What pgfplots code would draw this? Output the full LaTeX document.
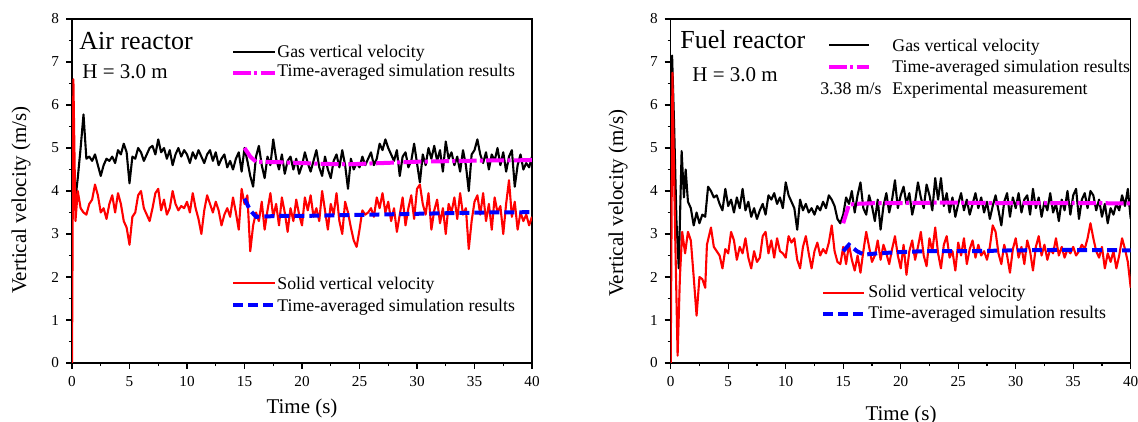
\documentclass[border=0pt]{standalone}
\usepackage{pgfplots}
\pgfplotsset{compat=1.18}
\usepackage{fontspec}
\setmainfont{Liberation Serif}
\definecolor{mag}{RGB}{255,0,255}
\definecolor{rd}{RGB}{255,0,0}
\definecolor{bl}{RGB}{0,0,255}
\tikzset{
  magline/.style={mag, line width=2pt, dash pattern=on 9pt off 1.6pt on 1.6pt off 1.6pt},
  blueline/.style={bl, line width=2pt, dash pattern=on 5pt off 2.5pt},
  gasline/.style={black, line width=1.05pt, line join=round},
  solline/.style={rd, line width=1.05pt, line join=round},
}
\pgfplotsset{
  panel/.style={
    scale only axis, width=230pt, height=172pt,
    xmin=0, xmax=40, ymin=0, ymax=8,
    xtick={0,5,...,40}, ytick={0,1,...,8},
    minor x tick num=1, minor y tick num=1,
    tick align=outside, tick pos=left,
    major tick length=3pt, minor tick length=1.6pt,
    axis line style={line width=0.75pt},
    every tick/.style={black, line width=0.6pt},
    /pgf/number format/assume math mode=true,
    ticklabel style={font=\fontsize{7.6}{8}\selectfont},
    anchor=south west,
    clip=true,
  },
}
\begin{document}
\begin{tikzpicture}[x=1pt,y=1pt]
\useasboundingbox (0,0) rectangle (569,211);
% ---------------- Air reactor ----------------
\begin{axis}[panel, at={(36pt,29.5pt)}]
\addplot[gasline] coordinates {
(0,4.0)(0.25,3.7)(0.5,4.3)(0.75,5.0)(1.0,5.78)(1.25,4.75)(1.5,4.8)(1.75,4.7)(2.0,4.85)(2.25,4.6)(2.5,4.35)(2.75,4.6)(3.0,4.75)(3.25,4.7)(3.5,4.8)(3.75,4.65)(4.0,4.95)(4.25,4.85)(4.5,5.1)(4.75,4.9)(5.0,4.18)(5.25,4.8)(5.5,4.75)(5.75,5.0)(6.0,4.9)(6.25,4.7)(6.5,4.85)(6.75,5.0)(7.0,5.05)(7.25,4.85)(7.5,5.2)(7.75,4.9)(8.0,5.0)(8.25,4.75)(8.5,4.95)(8.75,4.6)(9.0,4.85)(9.25,5.0)(9.5,4.8)(9.75,4.95)(10.0,4.85)(10.25,4.65)(10.5,4.9)(10.75,4.75)(11.0,4.95)(11.25,4.8)(11.5,4.65)(11.75,4.85)(12.0,4.95)(12.25,4.7)(12.5,4.9)(12.75,4.6)(13.0,4.75)(13.25,4.85)(13.5,4.55)(13.75,4.7)(14.0,4.5)(14.25,4.75)(14.5,4.9)(14.75,4.45)(15.0,5.0)(15.25,4.7)(15.5,4.35)(15.75,4.1)(16.0,4.8)(16.25,5.05)(16.5,4.6)(16.75,4.3)(17.0,4.8)(17.25,4.6)(17.5,5.2)(17.75,4.75)(18.0,4.5)(18.25,4.85)(18.5,4.4)(18.75,4.7)(19.0,4.8)(19.25,4.5)(19.5,4.75)(19.75,4.4)(20.0,4.6)(20.25,4.9)(20.5,4.65)(20.75,4.45)(21.0,4.7)(21.25,4.95)(21.5,4.55)(21.75,4.35)(22.0,4.8)(22.25,4.5)(22.5,4.3)(22.75,4.7)(23.0,4.85)(23.25,4.55)(23.5,4.95)(23.75,4.6)(24.0,4.05)(24.25,4.75)(24.5,4.5)(24.75,4.65)(25.0,4.55)(25.25,4.8)(25.5,4.6)(25.75,4.75)(26.0,4.9)(26.25,4.6)(26.5,4.75)(26.75,5.1)(27.0,4.95)(27.25,5.2)(27.5,5.0)(27.75,4.85)(28.0,4.7)(28.25,4.95)(28.5,4.35)(28.75,4.8)(29.0,4.9)(29.25,4.55)(29.5,4.7)(29.75,5.1)(30.0,4.65)(30.25,4.2)(30.5,4.85)(30.75,4.6)(31.0,5.0)(31.25,4.75)(31.5,5.05)(31.75,4.7)(32.0,4.95)(32.25,4.45)(32.5,5.15)(32.75,4.75)(33.0,4.9)(33.25,4.6)(33.5,4.8)(33.75,4.45)(34.0,4.95)(34.25,4.6)(34.5,4.0)(34.75,4.85)(35.0,4.95)(35.25,5.2)(35.5,4.85)(35.75,4.65)(36.0,4.9)(36.25,4.5)(36.5,4.85)(36.75,4.7)(37.0,5.0)(37.25,4.6)(37.5,4.9)(37.75,4.45)(38.0,4.8)(38.25,4.95)(38.5,4.1)(38.75,4.6)(39.0,4.85)(39.25,4.5)(39.5,4.65)(39.75,4.55)(40.0,4.8)
};
\addplot[solline] coordinates {
(0,0.0)(0.12,6.6)(0.3,3.3)(0.5,4.0)(0.75,3.6)(1.0,3.5)(1.25,3.45)(1.5,3.7)(1.75,3.8)(2.0,4.15)(2.25,3.9)(2.5,3.5)(2.75,3.6)(3.0,3.35)(3.25,3.7)(3.5,3.9)(3.75,3.5)(4.0,3.95)(4.25,3.7)(4.5,3.3)(4.75,3.15)(5.0,2.75)(5.25,3.4)(5.5,3.5)(5.75,3.9)(6.0,4.0)(6.25,3.6)(6.5,3.45)(6.75,3.3)(7.0,3.6)(7.25,3.95)(7.5,4.05)(7.75,3.55)(8.0,3.8)(8.25,3.45)(8.5,3.6)(8.75,4.0)(9.0,3.7)(9.25,3.55)(9.5,3.65)(9.75,3.6)(10.0,3.75)(10.25,3.5)(10.5,3.95)(10.75,3.6)(11.0,3.35)(11.25,3.0)(11.5,3.55)(11.75,3.9)(12.0,3.7)(12.25,3.5)(12.5,3.75)(12.75,3.55)(13.0,3.2)(13.25,3.45)(13.5,3.6)(13.75,3.4)(14.0,3.85)(14.25,3.5)(14.5,3.1)(14.75,4.05)(15.0,3.7)(15.25,3.9)(15.5,2.6)(15.75,3.2)(16.0,3.5)(16.25,3.3)(16.5,3.75)(16.75,3.1)(17.0,3.55)(17.25,3.95)(17.5,3.4)(17.75,3.7)(18.0,3.2)(18.25,3.85)(18.5,3.5)(18.75,3.05)(19.0,3.6)(19.25,3.3)(19.5,3.8)(19.75,3.45)(20.0,3.2)(20.25,3.85)(20.5,3.55)(20.75,3.9)(21.0,3.4)(21.25,3.6)(21.5,3.3)(21.75,4.0)(22.0,3.55)(22.25,3.1)(22.5,3.7)(22.75,3.45)(23.0,3.95)(23.25,3.3)(23.5,3.0)(23.75,3.75)(24.0,3.5)(24.25,3.15)(24.5,2.85)(24.75,2.7)(25.0,3.1)(25.25,3.55)(25.5,3.45)(25.75,3.5)(26.0,3.6)(26.25,3.4)(26.5,3.85)(26.75,3.6)(27.0,3.95)(27.25,3.5)(27.5,3.75)(27.75,3.3)(28.0,3.6)(28.25,3.05)(28.5,3.45)(28.75,3.85)(29.0,3.2)(29.25,3.6)(29.5,3.9)(29.75,3.35)(30.0,4.05)(30.25,4.15)(30.5,3.7)(30.75,3.45)(31.0,3.95)(31.25,3.1)(31.5,3.55)(31.75,3.8)(32.0,3.25)(32.25,3.6)(32.5,3.0)(32.75,3.7)(33.0,3.5)(33.25,3.85)(33.5,3.35)(33.75,3.95)(34.0,3.45)(34.25,3.6)(34.5,2.65)(34.75,3.3)(35.0,3.75)(35.25,3.9)(35.5,3.45)(35.75,3.95)(36.0,3.3)(36.25,3.7)(36.5,3.1)(36.75,3.85)(37.0,3.5)(37.25,3.65)(37.5,3.0)(37.75,3.7)(38.0,4.25)(38.25,3.4)(38.5,3.75)(38.75,3.1)(39.0,3.5)(39.25,3.3)(39.5,3.45)(39.75,3.2)(40.0,3.4)
};
\addplot[magline] coordinates {
(15,5.0)(15.5,4.8)(16,4.68)(18,4.67)(20,4.65)(22,4.63)(24,4.62)(26,4.64)(28,4.66)(30,4.68)(32,4.69)(34,4.7)(36,4.71)(38,4.71)(40,4.72)
};
\addplot[blueline] coordinates {
(15,3.82)(15.5,3.55)(16,3.4)(18,3.42)(20,3.42)(22,3.43)(24,3.44)(26,3.45)(28,3.46)(30,3.47)(32,3.48)(34,3.49)(36,3.5)(38,3.5)(40,3.51)
};
\end{axis}
% ---------------- Fuel reactor ----------------
\begin{axis}[panel, at={(335.35pt,29.5pt)}]
\addplot[gasline] coordinates {
(0,6.2)(0.12,7.15)(0.3,5.5)(0.5,3.3)(0.7,2.2)(0.95,4.93)(1.15,3.85)(1.3,4.5)(1.5,3.75)(1.75,3.6)(2.0,3.2)(2.25,3.5)(2.5,3.25)(2.75,3.45)(3.0,3.4)(3.25,4.1)(3.5,4.0)(3.75,3.85)(4.0,3.9)(4.25,3.7)(4.5,3.55)(4.75,4.05)(5.0,3.65)(5.25,3.8)(5.5,3.5)(5.75,3.85)(6.0,3.6)(6.25,4.05)(6.5,3.55)(6.75,3.75)(7.0,3.4)(7.25,3.6)(7.5,3.35)(7.75,3.55)(8.0,3.7)(8.25,3.45)(8.5,3.9)(8.75,3.8)(9.0,3.95)(9.25,3.7)(9.5,3.85)(9.75,3.6)(10.0,4.2)(10.25,3.9)(10.5,3.75)(10.75,3.6)(11.0,3.1)(11.25,3.8)(11.5,3.55)(11.75,3.7)(12.0,3.5)(12.25,3.6)(12.5,3.45)(12.75,3.65)(13.0,3.55)(13.25,3.75)(13.5,3.6)(13.75,3.9)(14.0,3.8)(14.25,3.65)(14.5,3.35)(14.75,3.25)(15.0,3.45)(15.25,3.85)(15.5,3.7)(15.75,4.0)(16.0,3.5)(16.25,3.9)(16.5,4.2)(16.75,3.6)(17.0,3.45)(17.25,3.9)(17.5,3.65)(17.75,3.3)(18.0,3.8)(18.25,3.1)(18.5,3.65)(18.75,3.95)(19.0,3.5)(19.25,3.8)(19.5,4.25)(19.75,3.6)(20.0,3.9)(20.25,4.1)(20.5,3.7)(20.75,3.95)(21.0,3.45)(21.25,3.75)(21.5,4.2)(21.75,3.85)(22.0,3.6)(22.25,4.15)(22.5,3.9)(22.75,3.55)(23.0,4.3)(23.25,3.8)(23.5,4.3)(23.75,3.65)(24.0,3.95)(24.25,3.5)(24.5,3.85)(24.75,3.4)(25.0,3.7)(25.25,3.95)(25.5,3.55)(25.75,3.8)(26.0,3.45)(26.25,3.7)(26.5,3.95)(26.75,3.6)(27.0,3.85)(27.25,3.5)(27.5,3.75)(27.75,3.35)(28.0,3.65)(28.25,3.9)(28.5,3.55)(28.75,3.2)(29.0,3.75)(29.25,3.95)(29.5,3.4)(29.75,3.85)(30.0,3.6)(30.25,3.95)(30.5,3.5)(30.75,3.8)(31.0,3.9)(31.25,3.45)(31.5,4.05)(31.75,3.6)(32.0,3.85)(32.25,3.4)(32.5,3.75)(32.75,3.55)(33.0,3.95)(33.25,3.5)(33.5,3.7)(33.75,3.3)(34.0,3.8)(34.25,3.55)(34.5,4.0)(34.75,3.45)(35.0,3.9)(35.25,4.05)(35.5,3.35)(35.75,3.8)(36.0,3.95)(36.25,3.6)(36.5,4.0)(36.75,3.9)(37.0,3.55)(37.25,3.8)(37.5,3.4)(37.75,3.7)(38.0,3.25)(38.25,3.6)(38.5,3.45)(38.75,3.7)(39.0,3.55)(39.25,3.9)(39.5,3.65)(39.75,4.05)(40.0,3.35)
};
\addplot[solline] coordinates {
(0,0.0)(0.15,6.75)(0.35,3.5)(0.6,0.17)(0.8,2.0)(1.0,3.05)(1.25,2.55)(1.5,3.05)(1.75,2.85)(2.0,2.0)(2.25,1.1)(2.5,2.0)(2.75,1.95)(3.0,1.75)(3.15,2.75)(3.5,3.15)(3.75,2.7)(4.0,2.6)(4.25,2.5)(4.5,2.2)(4.75,2.65)(5.0,2.55)(5.25,3.05)(5.5,2.85)(5.75,2.4)(6.0,2.7)(6.25,2.55)(6.5,2.9)(6.75,2.45)(7.0,2.2)(7.25,2.6)(7.5,2.35)(7.75,2.45)(8.0,2.95)(8.25,3.05)(8.5,2.55)(8.75,2.85)(9.0,2.45)(9.25,2.9)(9.5,2.6)(9.75,2.55)(10.0,2.45)(10.25,2.95)(10.5,2.8)(10.75,2.9)(11.0,2.4)(11.25,2.2)(11.5,2.7)(11.75,2.95)(12.0,2.55)(12.25,2.2)(12.5,2.6)(12.75,2.8)(13.0,2.5)(13.25,2.65)(13.5,2.55)(13.75,2.8)(14.0,3.2)(14.25,2.6)(14.5,2.35)(14.75,2.3)(15.0,2.7)(15.25,2.3)(15.5,2.75)(15.75,2.4)(16.0,2.15)(16.25,2.5)(16.5,2.1)(16.75,2.6)(17.0,3.05)(17.25,2.7)(17.5,2.35)(17.75,2.5)(18.0,2.85)(18.25,2.4)(18.5,2.75)(18.75,2.55)(19.0,2.3)(19.25,2.65)(19.5,2.95)(19.75,2.5)(20.0,2.2)(20.25,2.75)(20.5,2.05)(20.75,2.6)(21.0,2.85)(21.25,2.4)(21.5,2.7)(21.75,3.05)(22.0,2.5)(22.25,2.25)(22.5,2.9)(22.75,2.6)(23.0,3.15)(23.25,2.55)(23.5,2.2)(23.75,2.75)(24.0,2.95)(24.25,2.45)(24.5,2.6)(24.75,2.15)(25.0,2.8)(25.25,2.5)(25.5,2.9)(25.75,2.3)(26.0,2.65)(26.25,2.85)(26.5,2.45)(26.75,2.75)(27.0,2.5)(27.25,2.6)(27.5,2.4)(27.75,2.7)(28.0,3.2)(28.25,3.05)(28.5,2.55)(28.75,2.3)(29.0,2.75)(29.25,2.5)(29.5,2.1)(29.75,2.65)(30.0,2.9)(30.25,2.45)(30.5,2.7)(30.75,2.3)(31.0,2.85)(31.25,2.6)(31.5,2.15)(31.75,2.7)(32.0,2.95)(32.25,2.5)(32.5,2.75)(32.75,2.4)(33.0,2.65)(33.25,2.55)(33.5,2.9)(33.75,2.5)(34.0,2.7)(34.25,2.45)(34.5,2.65)(34.75,2.55)(35.0,2.7)(35.25,2.5)(35.5,2.6)(35.75,2.75)(36.0,2.65)(36.25,2.9)(36.5,3.25)(36.75,2.9)(37.0,2.6)(37.25,2.45)(37.5,2.7)(37.75,2.2)(38.0,2.55)(38.25,2.35)(38.5,2.6)(38.75,2.2)(39.0,2.5)(39.25,2.9)(39.5,2.65)(39.75,2.35)(40.0,1.75)
};
\addplot[magline] coordinates {
(15,3.25)(15.5,3.68)(16,3.7)(18,3.72)(20,3.72)(24,3.73)(28,3.72)(32,3.72)(36,3.72)(40,3.71)
};
\addplot[blueline] coordinates {
(15,2.6)(15.5,2.75)(16.2,2.6)(16.8,2.52)(18,2.55)(20,2.58)(22,2.6)(26,2.6)(30,2.62)(34,2.63)(40,2.62)
};
\end{axis}
% ---------------- texts (1px = 0.5pt, y = (422-py)/2) ----------------
\def\lfont{\fontsize{8.9}{10}\selectfont}
% left panel
\node[anchor=base west, inner sep=0, font=\fontsize{13}{15}\selectfont] at (39.5,186) {Air reactor};
\node[anchor=base west, inner sep=0, font=\fontsize{10.5}{12}\selectfont] at (41,171.5) {H = 3.0 m};
\draw[gasline] (116.5,185) -- (137.5,185);
\node[anchor=base west, inner sep=0, font=\lfont] at (138.5,182) {Gas vertical velocity};
\draw[magline] (116.5,174.6) -- (137.5,174.6);
\node[anchor=base west, inner sep=0, font=\lfont] at (138.5,172.5) {Time-averaged simulation results};
\draw[solline] (116.5,69.5) -- (137.5,69.5);
\node[anchor=base west, inner sep=0, font=\lfont] at (138.5,66) {Solid vertical velocity};
\draw[blueline] (116.5,58.5) -- (137.5,58.5);
\node[anchor=base west, inner sep=0, font=\lfont] at (138.5,55.2) {Time-averaged simulation results};
\node[anchor=base, rotate=90, inner sep=0, font=\fontsize{10.5}{12}\selectfont] at (13,111) {Vertical velocity (m/s)};
\node[anchor=base, inner sep=0, font=\fontsize{10.5}{12}\selectfont] at (151,4) {Time (s)};
% right panel
\node[anchor=base west, inner sep=0, font=\fontsize{13}{15}\selectfont] at (340,186.5) {Fuel reactor};
\node[anchor=base west, inner sep=0, font=\fontsize{10.5}{12}\selectfont] at (346,170) {H = 3.0 m};
\draw[gasline] (414.5,188.5) -- (434.5,188.5);
\node[anchor=base west, inner sep=0, font=\lfont] at (446,185) {Gas vertical velocity};
\draw[magline] (414.5,177.5) -- (434.5,177.5);
\node[anchor=base west, inner sep=0, font=\lfont] at (446,174.5) {Time-averaged simulation results};
\node[anchor=base east, inner sep=0, font=\lfont] at (441,163.5) {3.38 m/s};
\node[anchor=base west, inner sep=0, font=\lfont] at (446,163.5) {Experimental measurement};
\draw[solline] (411.5,64.5) -- (432,64.5);
\node[anchor=base west, inner sep=0, font=\lfont] at (434,62) {Solid vertical velocity};
\draw[blueline] (411.5,54) -- (432,54);
\node[anchor=base west, inner sep=0, font=\lfont] at (434,51.5) {Time-averaged simulation results};
\node[anchor=base, rotate=90, inner sep=0, font=\fontsize{10.5}{12}\selectfont] at (311.5,109.5) {Vertical velocity (m/s)};
\node[anchor=base, inner sep=0, font=\fontsize{10.5}{12}\selectfont] at (450.5,1) {Time (s)};
\end{tikzpicture}
\end{document}
